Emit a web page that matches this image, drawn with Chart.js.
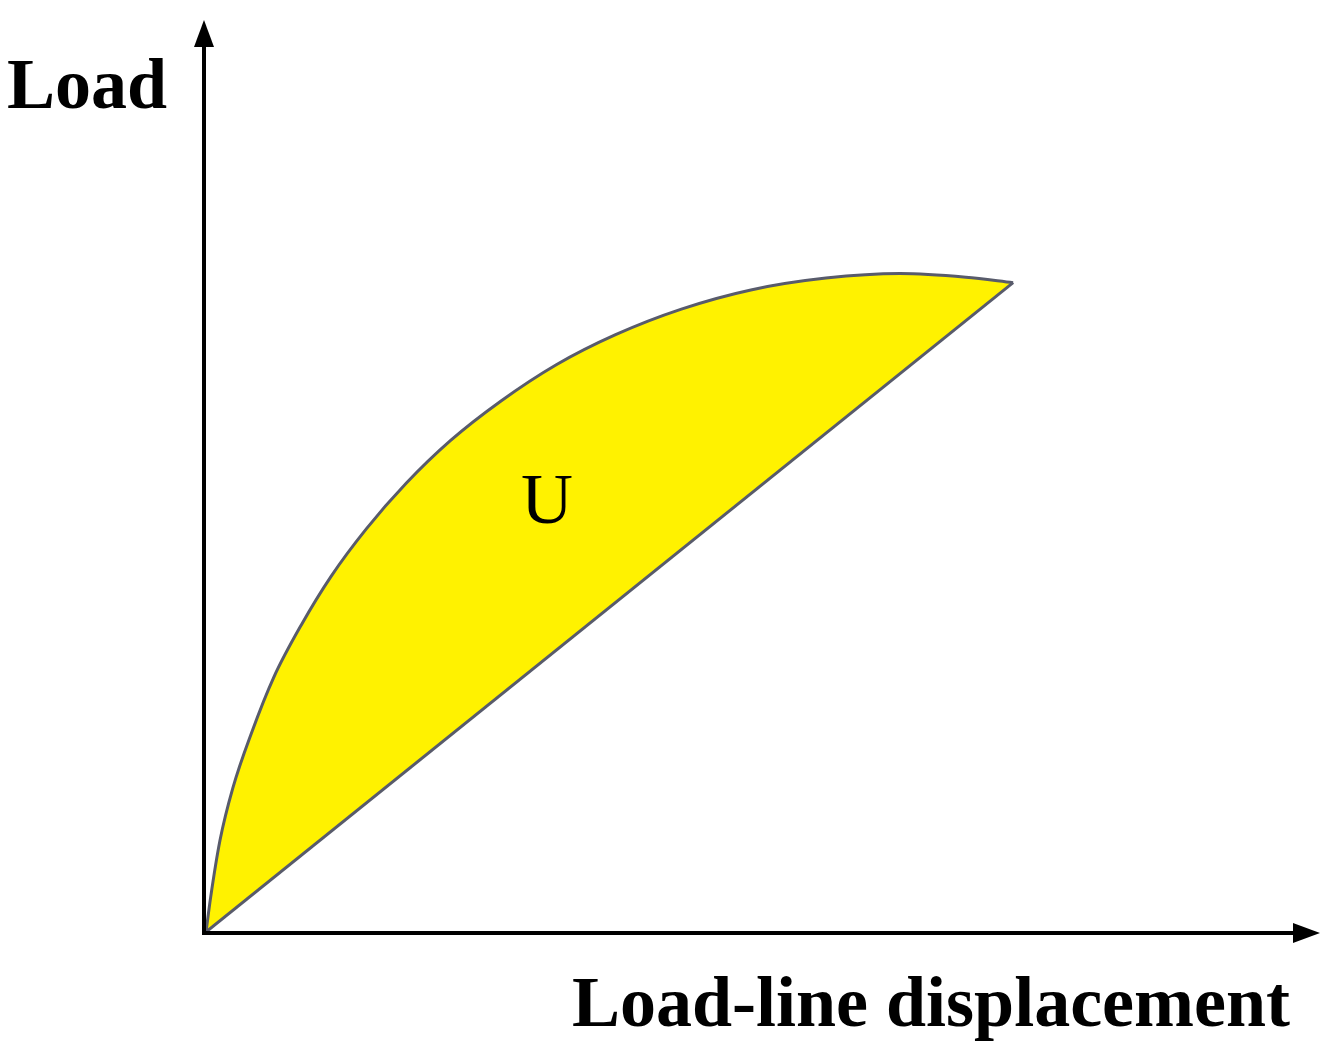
<!DOCTYPE html>
<html>
<head>
<meta charset="utf-8">
<script src="https://cdn.jsdelivr.net/npm/chart.js@4"></script>
<style>
  html, body { margin: 0; padding: 0; background: #fff; }
  #wrap { width: 1333px; height: 1047px; position: relative; }
</style>
</head>
<body>
<div id="wrap"><canvas id="loadChart"></canvas></div>
<script>
// loading curve (displacement, load)
var curveX = [0, 0.05, 0.15, 0.29, 0.49, 0.73, 1.03, 1.35, 1.73, 2.16, 2.64, 3.18, 3.78, 4.42, 5.13, 5.88, 6.69, 7.49, 8.20, 8.71];
var curveY = [0, 0.38, 1.00, 1.58, 2.18, 2.79, 3.37, 3.90, 4.42, 4.92, 5.39, 5.82, 6.22, 6.55, 6.83, 7.04, 7.17, 7.22, 7.18, 7.12];
// unloading line back to origin
var lineX = [0, 8.71];
var lineY = [0, 7.12];

var yTitle = "Load";
var xTitle = "Load-line displacement";
var areaLabel = "U";
var areaLabelAt = [3.68, 4.74];

function toPoints(xs, ys) {
    return xs.map(function (x, i) { return { x: x, y: ys[i] }; });
}

var arrowAxes = {
    id: "arrowAxes",
    afterDraw: function (chart) {
        var c = chart.ctx;
        var sx = chart.scales.x, sy = chart.scales.y;
        var ox = sx.getPixelForValue(0) - 2;
        var oy = sy.getPixelForValue(0) + 1;
        var topY = 20, rightX = 1320;
        c.save();
        c.strokeStyle = "#000";
        c.fillStyle = "#000";
        c.lineWidth = 4;
        c.beginPath();
        c.moveTo(ox, topY + 20);
        c.lineTo(ox, oy);
        c.lineTo(rightX - 20, oy);
        c.stroke();
        // arrow heads
        c.beginPath();
        c.moveTo(ox, topY);
        c.lineTo(ox - 10, topY + 27);
        c.lineTo(ox + 10, topY + 27);
        c.closePath();
        c.fill();
        c.beginPath();
        c.moveTo(rightX, oy);
        c.lineTo(rightX - 27, oy - 10);
        c.lineTo(rightX - 27, oy + 10);
        c.closePath();
        c.fill();

        c.font = "bold 72px 'Liberation Serif', 'Times New Roman', serif";
        c.textBaseline = "alphabetic";
        c.textAlign = "left";
        c.fillText(yTitle, 7, 108);
        c.textAlign = "right";
        c.fillText(xTitle, 1290, 1026);

        c.font = "72px 'Liberation Serif', 'Times New Roman', serif";
        c.textAlign = "center";
        c.textBaseline = "middle";
        c.fillText(areaLabel, sx.getPixelForValue(areaLabelAt[0]), sy.getPixelForValue(areaLabelAt[1]) + 4);
        c.restore();
    }
};

var ctx = document.getElementById("loadChart").getContext("2d");

var myChart = new Chart(ctx, {
    type: "scatter",
    data: {
        datasets: [
            {
                label: "Loading",
                data: toPoints(curveX, curveY),
                showLine: true,
                borderColor: "#585b6b",
                borderWidth: 3,
                pointRadius: 0,
                cubicInterpolationMode: "monotone",
                backgroundColor: "#fff200",
                fill: "+1",
            },
            {
                label: "Unloading",
                data: toPoints(lineX, lineY),
                showLine: true,
                borderColor: "#585b6b",
                borderWidth: 3,
                pointRadius: 0,
                fill: false,
            },
        ],
    },
    options: {
        responsive: true,
        maintainAspectRatio: false,
        animation: false,
        layout: {
            padding: { left: 206, right: 15, top: 20, bottom: 115 },
        },
        scales: {
            x: { type: "linear", min: 0, max: 12, display: false },
            y: { type: "linear", min: 0, max: 10, display: false },
        },
        plugins: {
            legend: { display: false },
            tooltip: { enabled: false },
            filler: { drawTime: "beforeDatasetsDraw" },
        },
    },
    plugins: [arrowAxes],
});
</script>
</body>
</html>
